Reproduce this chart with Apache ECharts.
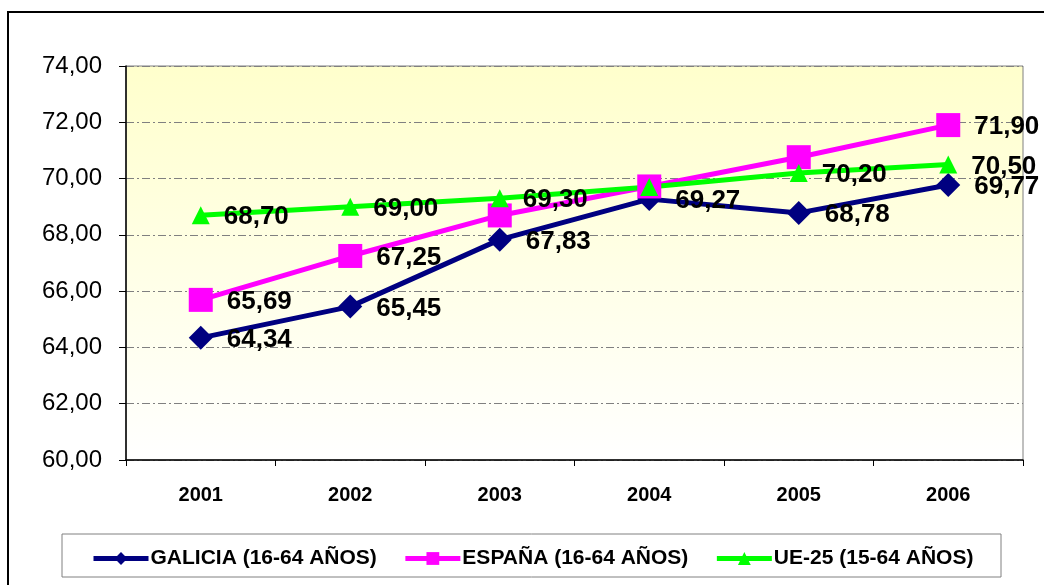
<!DOCTYPE html>
<html>
<head>
<meta charset="utf-8">
<script src="https://cdn.jsdelivr.net/npm/echarts@6/dist/echarts.min.js"></script>
<style>
  html, body { margin: 0; padding: 0; background: #fff; }
  #chart { width: 1044px; height: 585px; }
</style>
</head>
<body>
<div id="chart"></div>
<script>
var years = ['2001', '2002', '2003', '2004', '2005', '2006'];
var galicia = [64.34, 65.45, 67.83, 69.27, 68.78, 69.77];
var espana = [65.69, 67.25, 68.69, 69.72, 70.76, 71.90];
var ue25 = [68.70, 69.00, 69.30, 69.70, 70.20, 70.50];
// points whose label is not shown in the original
var espanaHidden = [2, 3, 4];
var ueHidden = [3];
var yTicks = { min: 60, max: 74, interval: 2 };

function fmt(v) {
    return v.toFixed(2).replace('.', ',');
}

function buildData(values, hidden) {
    var out = [];
    for (var i = 0; i < values.length; i++) {
        var item = { value: values[i] };
        if (hidden.indexOf(i) >= 0) {
            item.label = { show: false };
        }
        out.push(item);
    }
    return out;
}

var labelStyle = {
    show: true,
    position: 'right',
    distance: 14,
    offset: [0, 2],
    color: '#000',
    fontFamily: 'Arial, "Liberation Sans", sans-serif',
    fontWeight: 'bold',
    fontSize: 26,
    formatter: function (p) { return fmt(p.value); }
};

var myChart = echarts.init(document.getElementById('chart'));
var option = {
    animation: false,
    backgroundColor: '#fff',
    textStyle: { fontFamily: 'Arial, "Liberation Sans", sans-serif' },
    graphic: [
        {
            type: 'rect',
            shape: { x: 8, y: 12, width: 1100, height: 620 },
            style: { fill: null, stroke: '#000', lineWidth: 2 },
            silent: true
        },
        {
            type: 'rect',
            shape: { x: 62, y: 534, width: 939, height: 43 },
            style: { fill: '#fff', stroke: '#808080', lineWidth: 1 },
            silent: true,
            z: -1
        }
    ],
    grid: {
        left: 126,
        right: 21,
        top: 66,
        bottom: 125,
        show: true,
        borderColor: '#808080',
        borderWidth: 1,
        backgroundColor: new echarts.graphic.LinearGradient(0, 0, 0, 1, [
            { offset: 0, color: '#FFFFCC' },
            { offset: 1, color: '#FFFFFF' }
        ])
    },
    legend: {
        left: 86,
        top: 543,
        itemWidth: 55,
        itemHeight: 16,
        itemGap: 26,
        lineStyle: { width: 5 },
        textStyle: {
            fontSize: 21,
            fontWeight: 'bold',
            color: '#000',
            padding: [0, 0, 0, -3]
        },
        data: ['GALICIA (16-64 AÑOS)', 'ESPAÑA (16-64 AÑOS)', 'UE-25 (15-64 AÑOS)']
    },
    xAxis: {
        type: 'category',
        data: years,
        boundaryGap: true,
        axisLine: { lineStyle: { color: '#000', width: 1.5 } },
        axisTick: { show: true, length: 6, lineStyle: { color: '#000' } },
        axisLabel: {
            color: '#000',
            fontSize: 20,
            fontWeight: 'bold',
            margin: 25
        }
    },
    yAxis: {
        type: 'value',
        min: yTicks.min,
        max: yTicks.max,
        interval: yTicks.interval,
        axisLine: { show: true, lineStyle: { color: '#000', width: 1.5 } },
        axisTick: { show: true, length: 7, lineStyle: { color: '#000' } },
        axisLabel: {
            color: '#000',
            fontSize: 24,
            margin: 24,
            formatter: function (v) { return fmt(v); }
        },
        splitLine: {
            show: true,
            lineStyle: { color: '#808080', width: 1, type: [8, 3, 2, 3] }
        }
    },
    series: [
        {
            name: 'GALICIA (16-64 AÑOS)',
            type: 'line',
            data: buildData(galicia, []),
            symbol: 'diamond',
            symbolSize: 24,
            lineStyle: { color: '#000080', width: 5 },
            itemStyle: { color: '#000080' },
            label: labelStyle
        },
        {
            name: 'ESPAÑA (16-64 AÑOS)',
            type: 'line',
            data: buildData(espana, espanaHidden),
            symbol: 'rect',
            symbolSize: 24,
            lineStyle: { color: '#FF00FF', width: 5 },
            itemStyle: { color: '#FF00FF' },
            label: labelStyle
        },
        {
            name: 'UE-25 (15-64 AÑOS)',
            type: 'line',
            data: buildData(ue25, ueHidden),
            symbol: 'triangle',
            symbolSize: 18,
            lineStyle: { color: '#00FF00', width: 5 },
            itemStyle: { color: '#00FF00' },
            label: labelStyle
        }
    ]
};

myChart.setOption(option);
</script>
</body>
</html>
